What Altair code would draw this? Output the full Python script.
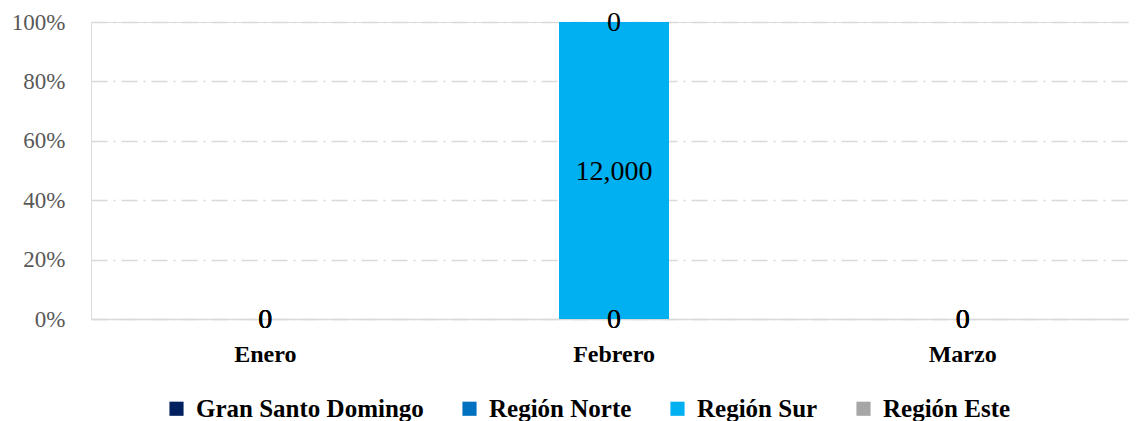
import altair as alt
import pandas as pd

meses = ["Enero", "Febrero", "Marzo"]
regiones = ["Gran Santo Domingo", "Región Norte", "Región Sur", "Región Este"]
colores = ["#002060", "#0070C0", "#00B0F0", "#A6A6A6"]
gran_santo_domingo = [0, 0, 0]
region_norte = [0, 0, 0]
region_sur = [0, 12000, 0]
region_este = [0, 0, 0]

series = [gran_santo_domingo, region_norte, region_sur, region_este]
rows = []
for i, (reg, vals) in enumerate(zip(regiones, series)):
    for mes, v in zip(meses, vals):
        rows.append({"mes": mes, "region": reg, "orden": i, "valor": v})
df = pd.DataFrame(rows)
tot = df.groupby("mes")["valor"].transform("sum")
df["pct"] = [v / t if t > 0 else 0.0 for v, t in zip(df["valor"], tot)]

FONT = "Liberation Serif"

base = alt.Chart(df).transform_stack(
    stack="pct", groupby=["mes"], as_=["y0", "y1"],
    sort=[alt.SortField("orden", order="ascending")]
).transform_calculate(ymid="(datum.y0 + datum.y1) / 2")

x_enc = alt.X("mes:N", sort=meses, title=None,
              axis=alt.Axis(labelAngle=0, labelFont=FONT, labelFontSize=24,
                            labelFontWeight="bold", labelColor="#000000",
                            labelPadding=23, ticks=False, domain=True,
                            domainColor="#D9D9D9", domainWidth=1.5, grid=False))

bars = base.mark_bar(size=110).encode(
    x=x_enc,
    y=alt.Y("y0:Q", scale=alt.Scale(domain=[0, 1]), title=None,
            axis=alt.Axis(format=".0%", values=[0, 0.2, 0.4, 0.6, 0.8, 1.0],
                          labelFont=FONT, labelFontSize=23, labelColor="#595959",
                          labelPadding=26, ticks=False, domain=False,
                          grid=True, gridColor="#D9D9D9", gridWidth=1.3,
                          gridDash=[16, 6, 2, 6])),
    y2="y1:Q",
    color=alt.Color("region:N", sort=regiones,
                    scale=alt.Scale(domain=regiones, range=colores),
                    legend=alt.Legend(title=None, orient="none", direction="horizontal",
                                      columns=4, legendX=73, legendY=374,
                                      symbolType="square", symbolSize=200,
                                      symbolStrokeWidth=0, labelFont=FONT,
                                      labelFontSize=25, labelFontWeight="bold",
                                      labelColor="#000000", labelOffset=7,
                                      columnPadding=33, labelLimit=400)),
    order=alt.Order("orden:Q"),
)

labels = base.mark_text(font=FONT, fontSize=28, color="#000000",
                        baseline="middle", align="center", dy=1).encode(
    x=alt.X("mes:N", sort=meses),
    y=alt.Y("ymid:Q"),
    text=alt.Text("valor:Q", format=","),
)

chart = alt.layer(bars, labels).properties(
    width=1046, height=297,
    autosize=alt.AutoSizeParams(type="none"),
    padding={"left": 83, "top": 14, "right": -8, "bottom": 104},
).configure_view(stroke=None).configure(background="#ffffff")

chart.save("out.html", embed_options={"renderer": "svg", "actions": False})
